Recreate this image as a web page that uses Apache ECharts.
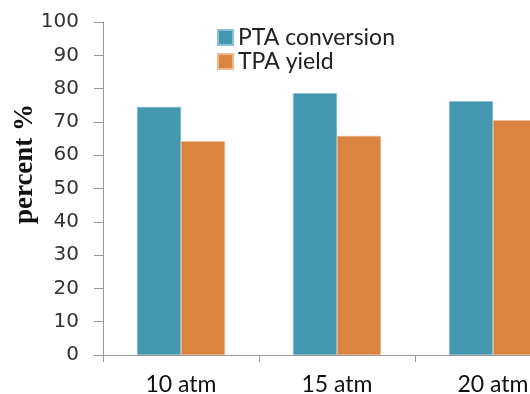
<!DOCTYPE html>
<html><head><meta charset="utf-8">
<script src="https://cdn.jsdelivr.net/npm/echarts@6/dist/echarts.min.js"></script>
<style>html,body{margin:0;padding:0;background:#fff}#c{width:530px;height:394px}</style>
</head><body><div id="c"></div>
<script>
var categories = ['10 atm', '15 atm', '20 atm'];
var ptaConversion = [74.5, 78.6, 76.2];
var tpaYield = [64.2, 65.8, 70.5];
var yTicks = [0, 10, 20, 30, 40, 50, 60, 70, 80, 90, 100];
var yAxisTitle = 'percent %';

var chart = echarts.init(document.getElementById('c'), null, {renderer: 'canvas'});
chart.setOption({
  animation: false,
  backgroundColor: '#fff',
  grid: {left: 103, top: 22, bottom: 39, right: -41, containLabel: false, outerBoundsMode: 'none'},
  legend: {
    left: 217, top: 26, orient: 'vertical', itemWidth: 15, itemHeight: 15, itemGap: 1, padding: 0,
    icon: 'rect',
    textStyle: {fontFamily: 'Lato', fontSize: 23, color: '#222'},
    data: ['PTA conversion', 'TPA yield']
  },
  graphic: [{
    type: 'text', x: 25, y: 164, rotation: Math.PI / 2,
    style: {text: yAxisTitle, fontFamily: 'Liberation Serif', fontWeight: 'bold', fontSize: 27,
            fill: '#111', align: 'center', verticalAlign: 'middle'}
  }],
  xAxis: {
    type: 'category', data: categories,
    axisLine: {lineStyle: {color: '#999', width: 1}},
    axisTick: {show: true, length: 7, alignWithLabel: false, lineStyle: {color: '#999'}},
    axisLabel: {fontFamily: 'Lato', fontSize: 23, color: '#111', margin: 18}
  },
  yAxis: {
    type: 'value', min: yTicks[0], max: yTicks[yTicks.length - 1], interval: 10,
    axisLine: {show: true, lineStyle: {color: '#999', width: 1}},
    axisTick: {show: true, length: 9, lineStyle: {color: '#999'}},
    splitLine: {show: false},
    axisLabel: {fontFamily: 'DejaVu Sans', fontSize: 20, color: '#333', margin: 24}
  },
  series: [
    {name: 'PTA conversion', type: 'bar', data: ptaConversion, barGap: '0%', barCategoryGap: '43.6%',
     itemStyle: {color: '#4398B0', borderColor: '#8cc0d0', borderWidth: 0.6}},
    {name: 'TPA yield', type: 'bar', data: tpaYield, barGap: '0%', barCategoryGap: '43.6%',
     itemStyle: {color: '#DA843F', borderColor: '#f0b890', borderWidth: 0.6}}
  ]
});
</script></body></html>
